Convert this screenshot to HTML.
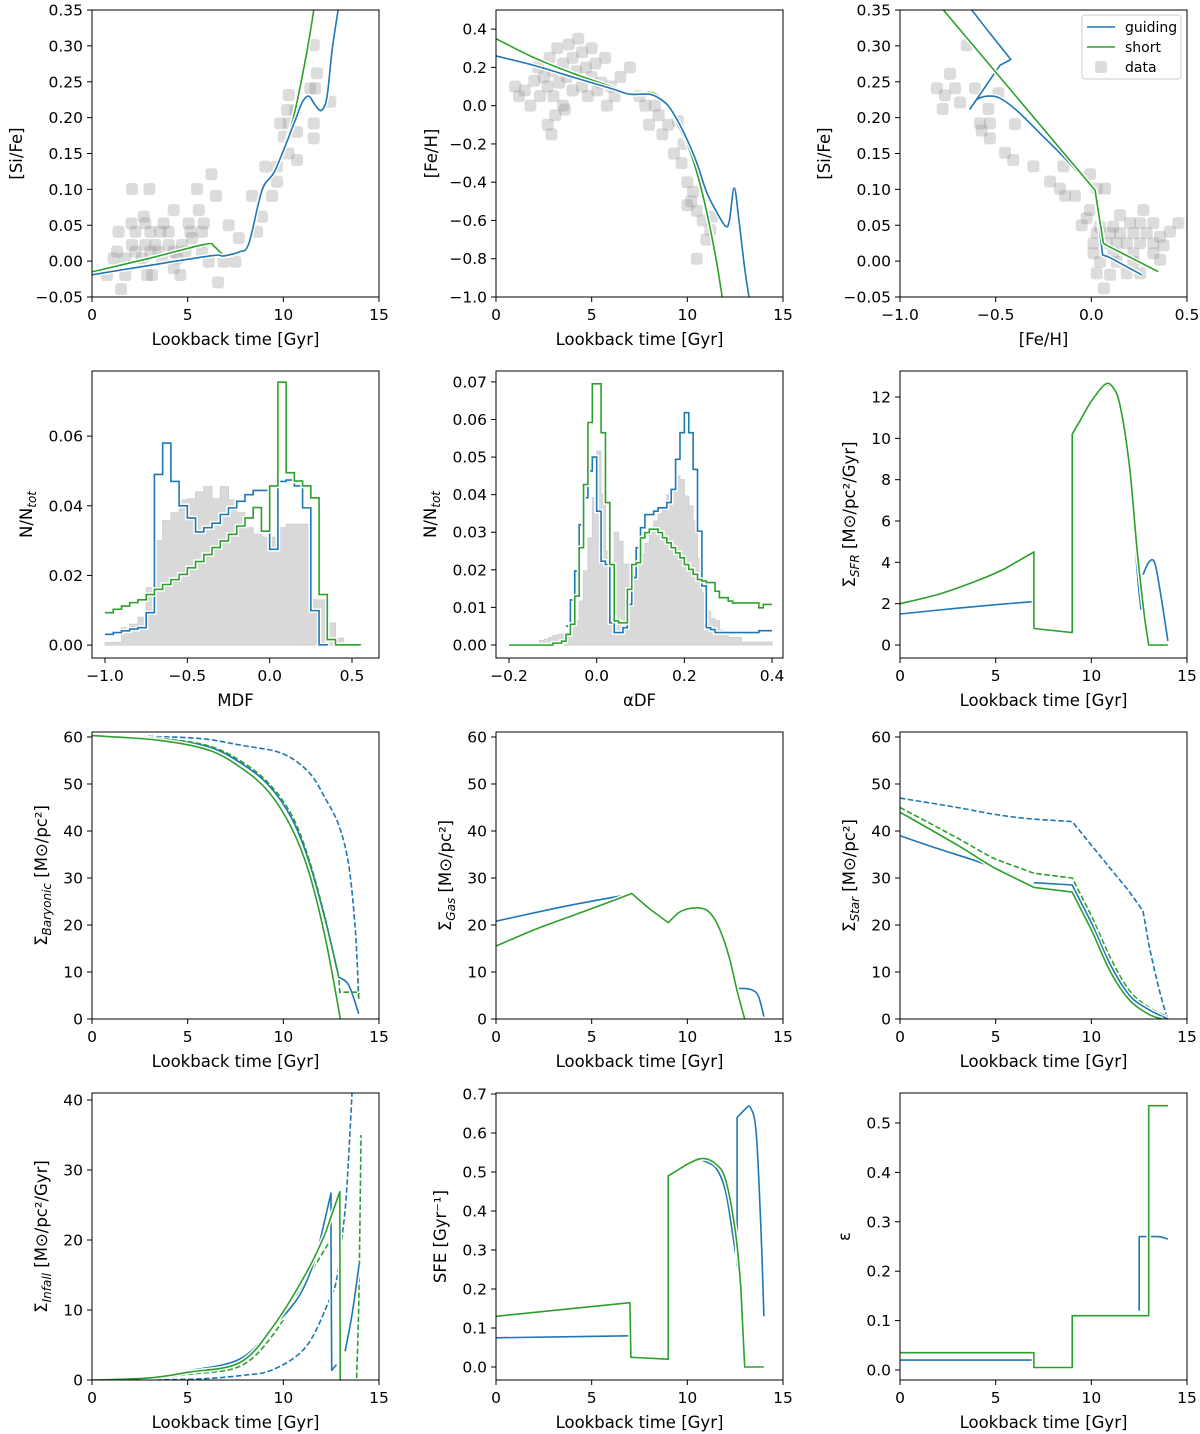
<!DOCTYPE html>
<html><head><meta charset="utf-8">
<style>
html,body{margin:0;padding:0;background:#fff;}
svg{display:block;font-family:"DejaVu Sans","Liberation Sans",sans-serif;}
</style></head>
<body>
<svg id="fig" width="1200" height="1434" viewBox="0 0 1200 1434" xmlns="http://www.w3.org/2000/svg"></svg>
<script>
// ---------- data ----------
const siFeScatter=[[2.09,0.1005],[3.0,0.1005],[6.24,0.121],[5.49,0.1005],[6.48,0.091],[4.27,0.071],[5.58,0.071],[2.7,0.062],[2.06,0.0527],[2.79,0.0527],[3.75,0.0527],[5.05,0.0527],[5.84,0.0527],[7.14,0.05],[1.39,0.041],[2.27,0.041],[3.05,0.041],[3.57,0.041],[4.01,0.041],[5.14,0.041],[5.75,0.041],[7.67,0.032],[2.09,0.0225],[2.79,0.0225],[3.31,0.0225],[4.01,0.0225],[4.7,0.0225],[5.23,0.032],[1.31,0.0132],[2.27,0.0132],[3.05,0.0132],[3.48,0.0132],[4.27,0.0132],[4.88,0.0132],[5.75,0.0132],[1.13,0.0039],[1.74,0.0039],[2.61,0.0039],[3.66,0.0039],[4.44,0.0039],[6.1,-0.0008],[6.88,-0.0008],[7.49,-0.0008],[0.78,-0.0193],[1.74,-0.0193],[2.88,-0.0193],[3.14,-0.0193],[4.62,-0.0193],[4.27,-0.01],[1.52,-0.039],[6.59,-0.0296],[8.36,0.091],[9.41,0.091],[9.06,0.1317],[9.67,0.1317],[9.67,0.1107],[8.89,0.062],[8.63,0.041],[10.28,0.2315],[9.84,0.192],[10.28,0.192],[10.72,0.18],[10.19,0.2106],[10.02,0.1735],[10.28,0.15],[10.72,0.141],[11.59,0.301],[11.76,0.2617],[11.41,0.2408],[11.67,0.2408],[12.46,0.2222],[11.59,0.192],[11.59,0.171],[10.63,0.2106]];
const siFeBlue=[[0,-0.019],[3,-0.006],[6.27,0.0076],[6.8,0.007],[7.2,0.009],[7.7,0.013],[8.19,0.024],[8.89,0.099],[9.58,0.127],[10.63,0.197],[11.0,0.222],[11.33,0.23],[11.65,0.218],[11.99,0.21],[12.28,0.229],[12.55,0.294],[12.86,0.35]];
const siFeGreen=[[0,-0.015],[3,0.004],[5.92,0.0234],[6.4,0.02],[6.97,0.0076],[7.67,0.0132],[8.19,0.0248],[8.89,0.099],[9.58,0.127],[10.45,0.192],[11.15,0.28],[11.59,0.35]];
const feHScatter=[[1.0,0.1],[1.2,0.05],[1.5,0.08],[1.8,0.0],[2.0,0.13],[2.2,0.2],[2.3,0.05],[2.5,0.15],[2.7,0.1],[2.8,0.25],[3.0,0.18],[3.0,0.05],[3.2,0.3],[3.3,0.12],[3.5,0.22],[3.5,0.0],[3.7,0.15],[3.8,0.32],[4.0,0.08],[4.0,0.25],[4.2,0.18],[4.3,0.35],[4.5,0.1],[4.5,0.28],[4.7,0.2],[4.8,0.05],[5.0,0.3],[5.0,0.15],[5.2,0.22],[5.3,0.08],[5.5,0.12],[5.7,0.25],[6.0,0.1],[6.2,0.05],[6.5,0.15],[2.7,-0.1],[2.9,-0.15],[3.1,-0.05],[7.0,0.2],[7.5,0.05],[7.8,0.0],[8.0,-0.1],[8.3,0.0],[8.5,-0.05],[8.7,-0.15],[9.0,-0.1],[9.3,-0.25],[9.5,-0.08],[9.7,-0.3],[9.8,-0.2],[10.0,-0.4],[10.2,-0.5],[10.5,-0.55],[10.3,-0.45],[11.0,-0.7],[11.2,-0.65],[10.8,-0.6],[10.0,-0.52],[10.5,-0.8],[11.3,-0.58],[3.6,-0.02],[5.8,0.0]];
const feHBlue=[[0,0.26],[2,0.21],[4,0.15],[6,0.09],[7,0.06],[8,0.06],[8.5,0.04],[9,0.0],[9.5,-0.08],[10,-0.18],[10.5,-0.3],[11,-0.45],[11.5,-0.55],[12,-0.63],[12.2,-0.6],[12.45,-0.43],[12.7,-0.6],[13,-0.85],[13.3,-1.05]];
const feHGreen=[[0,0.35],[2,0.25],[4,0.17],[6,0.1],[7,0.06],[8,0.07],[8.5,0.05],[9,0.0],[9.5,-0.1],[10,-0.2],[10.5,-0.35],[11,-0.55],[11.5,-0.8],[11.9,-1.05]];
const alphaScatter=[[-0.651,0.301],[-0.739,0.261],[-0.808,0.241],[-0.765,0.231],[-0.712,0.241],[-0.608,0.241],[-0.486,0.234],[-0.686,0.221],[-0.777,0.212],[-0.538,0.212],[-0.582,0.192],[-0.530,0.192],[-0.399,0.191],[-0.573,0.182],[-0.530,0.171],[-0.451,0.151],[-0.408,0.141],[-0.303,0.132],[-0.146,0.132],[-0.216,0.111],[-0.164,0.101],[-0.137,0.091],[-0.085,0.091],[-0.007,0.121],[0.028,0.101],[0.072,0.101],[0.272,0.071],[-0.007,0.071],[-0.024,0.060],[-0.050,0.050],[0.150,0.064],[0.455,0.053],[0.411,0.041],[0.045,0.048],[0.115,0.048],[0.202,0.053],[0.255,0.053],[0.324,0.053],[0.028,0.039],[0.098,0.039],[0.150,0.039],[0.220,0.039],[0.289,0.039],[0.359,0.034],[0.011,0.025],[0.080,0.025],[0.133,0.025],[0.185,0.025],[0.255,0.025],[0.324,0.025],[0.377,0.022],[0.011,0.011],[0.115,0.011],[0.220,0.011],[0.324,0.011],[0.045,-0.001],[0.133,-0.001],[0.220,-0.001],[0.359,0.002],[0.028,-0.017],[0.098,-0.019],[0.185,-0.017],[0.255,-0.017],[0.066,-0.038]];
const alphaBlue=[[0.263,-0.019],[0.089,0.006,1],[0.059,0.0085,1],[0.019,0.099,1],[-0.155,0.148],[-0.268,0.178],[-0.39,0.21],[-0.477,0.227],[-0.538,0.23],[-0.6,0.225],[-0.634,0.212,1],[-0.477,0.273,1],[-0.421,0.281,1],[-0.53,0.3175],[-0.625,0.35]];
const alphaGreen=[[0.35,-0.0147],[0.08,0.022,1],[0.063,0.025,1],[0.019,0.099,1],[-0.773,0.35]];
const mdfGray=[0.0008,0.0008,0.005,0.006,0.008,0.0165,0.030,0.0358,0.038,0.0417,0.042,0.044,0.0455,0.042,0.0455,0.0417,0.038,0.0337,0.0318,0.031,0.031,0.0337,0.0347,0.0347,0.0347,0.013,0.013,0.0064,0.002];
const mdfBlue=[0.0031,0.0036,0.0041,0.0046,0.005,0.0093,0.049,0.058,0.047,0.040,0.0365,0.0325,0.0337,0.035,0.0375,0.0394,0.0413,0.0432,0.0444,0.0444,0.0275,0.047,0.0474,0.0457,0.0394,0.0099,0.0001];
const mdfGreen=[0.0093,0.0103,0.0112,0.0122,0.013,0.0145,0.016,0.0174,0.0188,0.0203,0.0222,0.024,0.026,0.028,0.0299,0.0318,0.0342,0.0365,0.0395,0.0327,0.0457,0.0755,0.0495,0.0471,0.0457,0.0423,0.0145,0.0016,0.0001,0.0001,0.0001];
const adfGray=[0,0,0,0,0,0,0.0003,0.0012,0.0015,0.002,0.0025,0.0028,0.003,0.003,0.005,0.0065,0.0117,0.0197,0.0285,0.0392,0.0516,0.04,0.025,0.012,0.03,0.0276,0.0215,0.0215,0.02,0.022,0.024,0.027,0.03,0.033,0.035,0.037,0.04,0.042,0.045,0.044,0.0396,0.037,0.033,0.023,0.014,0.009,0.007,0.0065,0.004,0.003,0.002,0.002,0.002,0.0008,0.0008,0.0008,0.0008,0.0008,0.0008,0.0008];
const adfBlue=[null,null,null,null,null,null,null,null,null,null,null,null,null,0.005,0.012,0.0197,0.032,0.0392,0.0463,0.05,0.0356,0.0223,0.0214,0.0059,0.0033,0.0033,0.0046,0.0108,0.0179,0.0259,0.0312,0.0347,0.0347,0.0356,0.0365,0.0365,0.0379,0.0414,0.0494,0.0565,0.0618,0.0565,0.0467,0.0303,0.0157,0.0046,0.0041,0.0033,0.0033,0.0033,0.0033,0.0033,0.0033,0.0033,0.0033,0.0033,0.0033,0.0038,0.0038,0.0038];
const adfGreen=[0,0,0,0,0,0,0,0,0,0,0.0005,0.0005,0.001,0.0028,0.0055,0.013,0.0259,0.0427,0.0592,0.0695,0.0695,0.0565,0.0379,0.0214,0.0064,0.0059,0.0059,0.0148,0.0214,0.0219,0.0285,0.0299,0.0308,0.0308,0.0299,0.0285,0.0272,0.0259,0.0245,0.0232,0.0214,0.0201,0.0188,0.0174,0.017,0.0166,0.0166,0.0143,0.0126,0.0126,0.0117,0.0112,0.0112,0.0112,0.0112,0.0112,0.0112,0.0099,0.0108,0.0108];
const sfrBlueA=[[0,1.5],[3,1.78],[5,1.95],[7,2.1]];
const sfrGreen=[[0,2.0],[2,2.45],[4,3.1],[5.5,3.7],[7,4.5,1],[7,0.8,1],[9,0.6,1],[9,10.2,1],[9.5,11.0],[10,11.8],[10.7,12.6],[11.1,12.5],[11.5,11.6],[12,8.6],[12.4,4.5],[12.8,1.2],[13.0,0,1],[14,0]];
const sfrBlueB=[[10.7,12.6],[11.2,12.3],[11.7,10.5],[12.1,7.5],[12.4,3.5],[12.6,1.7]];
const sfrBlueC=[[12.7,3.4],[13,4.0],[13.3,4.0],[13.6,2.6],[14,0.2]];
const barGreen=[[0,60.3],[3.49,59.3],[6.1,57.2],[7.84,53.3],[9.24,48.3],[10.45,40.5],[11.33,31.3],[12.2,17.1],[12.98,0]];
const barBlue=[[0,60.3],[3.49,59.6],[6.1,57.9],[7.84,54.3],[9.24,49.7],[10.45,42.6],[11.33,33.6],[12.2,21],[12.9,8.9]];
const barBlueTail=[[12.9,8.9],[13.42,7.2],[13.94,1.1]];
const barGreenDash=[[0,60.3],[3.49,59.7],[6.1,58.1],[7.84,54.7],[9.24,50.1],[10.45,43.3],[11.33,34.1],[12.2,21.3],[12.9,8.9,1],[12.95,5.7,1],[13.94,5.7,1],[13.94,4.5]];
const barBlueDash=[[0,60.3],[5.23,59.8],[7.84,58.2],[9.93,56.5],[11.33,52.5],[12.2,46.9],[12.9,41.2],[13.42,32.7],[13.77,18.5],[13.94,4.3]];
const gasBlueA=[[0,20.8],[2,22.6],[4,24.3],[6,25.8],[7,26.5]];
const gasGreen=[[0,15.5],[2,19],[4,22],[6,25],[7.1,26.7,1],[8,23.5],[9,20.5,1],[9.5,22.5],[10,23.4],[10.7,23.6],[11.2,22.5],[11.7,19],[12.2,13],[12.6,6],[13,0]];
const gasBlueB=[[11.2,22.5],[11.7,19.5],[12.1,14.5],[12.4,9],[12.6,5.5]];
const gasBlueC=[[12.7,6.5],[13.3,6.3],[13.7,5],[14,0.5]];
const starBlueA=[[0,39],[2,36.2],[4,33.6],[5.7,31]];
const starBlueB=[[7,29],[9,28.5,1],[10,20.5],[11,11.5],[12,5],[13,2],[14,0]];
const starGreen=[[0,44],[3,37],[5,32],[7,28,1],[9,27,1],[10,19],[11,10],[12,4],[13,1],[13.7,0]];
const starGreenDash=[[0,45],[3,38.5],[5,34],[7,31,1],[9,30,1],[10,22],[11,13],[12,6],[13,2.5],[14,0.5]];
const starBlueDash=[[0,47],[3,45],[5,43.5],[7,42.5],[9,42,1],[10,37],[11,32],[12,27],[12.7,23,1],[13,16],[13.5,7],[13.9,1]];
const infBlue=[[0,0],[3,0.4],[5,1.3],[7.73,3.0],[9.5,7.7],[10.87,12.2],[11.8,18.5],[12.49,26.7,1],[12.49,20,1],[12.53,1.4,1],[12.78,2.2]];
const infBlueB=[[13.23,4.1],[13.6,9.5],[13.96,16.5]];
const infGreen=[[0,0],[3,0.3],[5,1.1],[7.73,2.5],[9.47,7.67],[11.2,15.3],[12.2,21],[12.95,26.9,1],[12.97,0]];
const infGreenDash=[[0,0],[3,0.2],[5,0.8],[7.73,1.96],[9.47,6.5],[11.2,14.3],[12.42,19.8]];
const infGreenDashB=[[13.83,0.29],[13.95,12],[14.06,35]];
const infBlueDash=[[0,0],[5,0.1],[7.73,0.62],[9.47,1.5],[11.2,4.8],[12.42,11.5],[12.78,14.3],[13.05,20],[13.3,26.7],[13.6,41.5]];
const sfeBlueA=[[0,0.075],[7,0.08]];
const sfeGreen=[[0,0.13],[7,0.165,1],[7.05,0.025,1],[9,0.02,1],[9,0.49,1],[10,0.52],[10.8,0.535],[11.5,0.52],[12,0.48],[12.5,0.35],[12.8,0.2],[13,0,1],[14,0]];
const sfeBlueB=[[10.8,0.53],[11.5,0.51],[12,0.45],[12.4,0.33],[12.6,0.26]];
const sfeBlueC=[[12.6,0.26,1],[12.6,0.64,1],[13,0.66],[13.3,0.665],[13.6,0.6],[13.85,0.35],[14,0.13]];
const epsGreen=[[0,0.035],[7,0.035,1],[7,0.005,1],[9,0.005,1],[9,0.11,1],[13,0.11,1],[13,0.535,1],[14,0.535]];
const epsBlueA=[[0,0.02],[7,0.02]];
const epsBlueB=[[12.5,0.12,1],[12.5,0.27,1],[13.5,0.27],[14,0.265]];
const tLabel='Lookback time [Gyr]';

// ---------- helpers ----------
const NS='http://www.w3.org/2000/svg';
const fig=document.getElementById('fig');
const BLUE='#1f77b4', GREEN='#2ca02c';
function el(tag,attrs,parent){const e=document.createElementNS(NS,tag);for(const k in attrs)e.setAttribute(k,attrs[k]);(parent||fig).appendChild(e);return e;}
function fmt(v,d){const s=Math.abs(v).toFixed(d);return (v<-1e-9?'\u2212':'')+s;}
function rng(a,b,s){const r=[];for(let v=a;v<=b+s/1e6;v+=s)r.push(+v.toFixed(6));return r;}
function smoothPath(pts,sx,sy){
  const P=pts.map(p=>[sx(p[0]),sy(p[1]),p[2]]);
  let d='M'+P[0][0].toFixed(1)+','+P[0][1].toFixed(1);
  for(let i=0;i<P.length-1;i++){
    const p1=P[i],p2=P[i+1];
    if(p1[2]||p2[2]){d+='L'+p2[0].toFixed(1)+','+p2[1].toFixed(1);continue;}
    const p0=(i>0&&!p1[2])?P[i-1]:p1, p3=(i+2<P.length)?P[i+2]:p2;
    const c1=[p1[0]+(p2[0]-p0[0])/6,p1[1]+(p2[1]-p0[1])/6],c2=[p2[0]-(p3[0]-p1[0])/6,p2[1]-(p3[1]-p1[1])/6];
    d+='C'+c1.map(v=>v.toFixed(1))+' '+c2.map(v=>v.toFixed(1))+' '+p2[0].toFixed(1)+','+p2[1].toFixed(1);
  }
  return d;
}
let clipN=0;
function panel(o){
  const W=287,H=287,L=o.L,T=o.T;
  const sx=v=>L+(v-o.x[0])/(o.x[1]-o.x[0])*W;
  const sy=v=>T+H-(v-o.y[0])/(o.y[1]-o.y[0])*H;
  const g=el('g',{});
  
  
  const cid='c'+(clipN++);
  const cp=el('clipPath',{id:cid},g);
  el('rect',{x:L,y:T,width:W,height:H},cp);
  const plot=el('g',{'clip-path':'url(#'+cid+')'},g);
  
  
  o.xt.forEach(v=>{const X=sx(v);
    const t=el('line',{x1:X,x2:X,y1:T+H,y2:T+H+5,stroke:'#000','stroke-width':1},g);
    
    
    const tx=el('text',{x:X,y:T+H+23,'text-anchor':'middle','font-size':15.5},g);tx.textContent=fmt(v,o.xd);
    
    
  });
  o.yt.forEach(v=>{const Y=sy(v);
    const t=el('line',{x1:L-5,x2:L,y1:Y,y2:Y,stroke:'#000','stroke-width':1},g);
    
    
    const tx=el('text',{x:L-9,y:Y+5.5,'text-anchor':'end','font-size':15.5},g);tx.textContent=fmt(v,o.yd);
    
    
  });
  const xl=el('text',{x:L+W/2,y:T+H+48,'text-anchor':'middle','font-size':16.5},g);xl.textContent=o.xl;
  
  
  const yx=L-o.ylo, yc=T+H/2;
  const yl=el('text',{x:yx,y:yc,'text-anchor':'middle','font-size':16.5,transform:'rotate(-90 '+yx+' '+yc+')'},g);
  
  
  o.yl.forEach((part,i)=>{const ts=el('tspan',{},yl);ts.textContent=part;
    if(i===1){ts.setAttribute('font-size','12');ts.setAttribute('font-style','italic');ts.setAttribute('dy','4');}
    if(i===2){ts.setAttribute('dy','-4');}
  });
  const ctx={g,plot,sx,sy,L,T,W,H};
  o.draw(ctx);
  const fr=el('rect',{x:L,y:T,width:W,height:H,fill:'none',stroke:'#000','stroke-width':1},g);
  
  
  return ctx;
}
function curve(c,pts,color,name,dash){
  const d=smoothPath(pts,c.sx,c.sy);
  if(!dash){const w=el('path',{d,fill:'none',stroke:'#fff','stroke-width':4.5,'stroke-linejoin':'round'},c.plot);
    
    }
  const p=el('path',{d,fill:'none',stroke:color,'stroke-width':1.6,'stroke-linejoin':'round'},c.plot);
  if(dash)p.setAttribute('stroke-dasharray','5.5 2.5');
  
  
}
function scatter(c,pts,name){
  pts.forEach(p=>{const r=el('rect',{x:c.sx(p[0])-6,y:c.sy(p[1])-6,width:12,height:12,rx:3,fill:'#8c8c8c','fill-opacity':0.3},c.plot);
    
    });
}
function hist(c,vals,x0,w,color,name,filled,openEnd){
  let d='',started=false,last=null;
  vals.forEach((v,i)=>{const a=c.sx(x0+i*w),b=c.sx(x0+(i+1)*w);
    if(v===null){return;}
    const Y=c.sy(v);
    if(!started){d+=(filled?'M'+a+','+c.sy(0)+'L':'M')+a+','+Y;started=true;}else d+='L'+a+','+Y;
    d+='L'+b+','+Y;last=b;});
  if(filled){d+='L'+last+','+c.sy(0)+'Z';
    const p=el('path',{d,fill:'#d9d9d9',stroke:'#d0d0d0','stroke-width':1},c.plot);
    
    
  } else {
    if(!openEnd)d+='L'+last+','+c.sy(0);
    const w2=el('path',{d,fill:'none',stroke:'#fff','stroke-width':4.5},c.plot);
    
    
    const p=el('path',{d,fill:'none',stroke:color,'stroke-width':1.6},c.plot);
    
    
  }
}
const cols=[92,496,900], rows=[10,371,732,1093];
const t15=[0,5,10,15];

// row 1
panel({name:'si-fe-vs-time',L:cols[0],T:rows[0],x:[0,15],y:[-0.05,0.35],xt:t15,xd:0,yt:rng(-0.05,0.35,0.05),yd:2,xl:tLabel,yl:['[Si/Fe]'],ylo:70,
 draw:c=>{scatter(c,siFeScatter,'data-point');curve(c,siFeGreen,GREEN,'short-line');curve(c,siFeBlue,BLUE,'guiding-line');}});
panel({name:'fe-h-vs-time',L:cols[1],T:rows[0],x:[0,15],y:[-1.0,0.5],xt:t15,xd:0,yt:rng(-1.0,0.4,0.2),yd:1,xl:tLabel,yl:['[Fe/H]'],ylo:59,
 draw:c=>{scatter(c,feHScatter,'data-point');curve(c,feHGreen,GREEN,'short-line');curve(c,feHBlue,BLUE,'guiding-line');}});
panel({name:'si-fe-vs-fe-h',L:cols[2],T:rows[0],x:[-1.0,0.5],y:[-0.05,0.35],xt:[-1.0,-0.5,0.0,0.5],xd:1,yt:rng(-0.05,0.35,0.05),yd:2,xl:'[Fe/H]',yl:['[Si/Fe]'],ylo:70,
 draw:c=>{scatter(c,alphaScatter,'data-point');curve(c,alphaBlue,BLUE,'guiding-line');curve(c,alphaGreen,GREEN,'short-line');}});
(function(){
  const lg=el('g',{});
  
  
  el('rect',{x:1082,y:15,width:99,height:64,rx:3,fill:'#fff','fill-opacity':0.8,stroke:'#ccc'},lg);
  const items=[['guiding',BLUE,'line'],['short',GREEN,'line'],['data','#8c8c8c','sq']];
  items.forEach((it,i)=>{const y=27+i*20;
    const e=el('g',{},lg);
    
    
    if(it[2]==='line')el('line',{x1:1087,x2:1115,y1:y,y2:y,stroke:it[1],'stroke-width':1.6},e);
    else el('rect',{x:1095,y:y-6,width:12,height:12,rx:3,fill:it[1],'fill-opacity':0.3},e);
    const t=el('text',{x:1125,y:y+5,'font-size':14},e);t.textContent=it[0];});
})();

// row 2
panel({name:'mdf-histogram',L:cols[0],T:rows[1],x:[-1.079,0.664],y:[-0.0037,0.0787],xt:[-1.0,-0.5,0.0,0.5],xd:1,yt:[0,0.02,0.04,0.06],yd:2,xl:'MDF',yl:['N/N','tot'],ylo:60,
 draw:c=>{hist(c,mdfGray,-1.0,0.05,'#d9d9d9','data-histogram',true);hist(c,mdfBlue,-1.0,0.05,BLUE,'guiding-histogram');hist(c,mdfGreen,-1.0,0.05,GREEN,'short-histogram');}});
panel({name:'alpha-df-histogram',L:cols[1],T:rows[1],x:[-0.2297,0.425],y:[-0.00346,0.0729],xt:[-0.2,0.0,0.2,0.4],xd:1,yt:rng(0,0.07,0.01),yd:2,xl:'\u03b1DF',yl:['N/N','tot'],ylo:60,
 draw:c=>{hist(c,adfGray,-0.2,0.01,'#d9d9d9','data-histogram',true);hist(c,adfBlue,-0.2,0.01,BLUE,'guiding-histogram',false,true);hist(c,adfGreen,-0.2,0.01,GREEN,'short-histogram',false,true);}});
panel({name:'sfr-vs-time',L:cols[2],T:rows[1],x:[0,15],y:[-0.63,13.26],xt:t15,xd:0,yt:[0,2,4,6,8,10,12],yd:0,xl:tLabel,yl:['\u03a3','SFR',' [M\u2299/pc\u00b2/Gyr]'],ylo:45,
 draw:c=>{curve(c,sfrBlueA,BLUE,'guiding-line');curve(c,sfrBlueB,BLUE,'guiding-line');curve(c,sfrBlueC,BLUE,'guiding-line');curve(c,sfrGreen,GREEN,'short-line');}});

// row 3
const y60=[0,10,20,30,40,50,60];
panel({name:'baryonic-vs-time',L:cols[0],T:rows[2],x:[0,15],y:[0,61.06],xt:t15,xd:0,yt:y60,yd:0,xl:tLabel,yl:['\u03a3','Baryonic',' [M\u2299/pc\u00b2]'],ylo:45,
 draw:c=>{curve(c,barBlueDash,BLUE,'guiding-dashed',true);curve(c,barBlue,BLUE,'guiding-line');curve(c,barBlueTail,BLUE,'guiding-line');curve(c,barGreenDash,GREEN,'short-dashed',true);curve(c,barGreen,GREEN,'short-line');}});
panel({name:'gas-vs-time',L:cols[1],T:rows[2],x:[0,15],y:[0,61.06],xt:t15,xd:0,yt:y60,yd:0,xl:tLabel,yl:['\u03a3','Gas',' [M\u2299/pc\u00b2]'],ylo:45,
 draw:c=>{curve(c,gasBlueA,BLUE,'guiding-line');curve(c,gasBlueB,BLUE,'guiding-line');curve(c,gasBlueC,BLUE,'guiding-line');curve(c,gasGreen,GREEN,'short-line');}});
panel({name:'star-vs-time',L:cols[2],T:rows[2],x:[0,15],y:[0,61.06],xt:t15,xd:0,yt:y60,yd:0,xl:tLabel,yl:['\u03a3','Star',' [M\u2299/pc\u00b2]'],ylo:45,
 draw:c=>{curve(c,starBlueDash,BLUE,'guiding-dashed',true);curve(c,starGreenDash,GREEN,'short-dashed',true);curve(c,starBlueA,BLUE,'guiding-line');curve(c,starBlueB,BLUE,'guiding-line');curve(c,starGreen,GREEN,'short-line');}});

// row 4
panel({name:'infall-vs-time',L:cols[0],T:rows[3],x:[0,15],y:[0,41],xt:t15,xd:0,yt:[0,10,20,30,40],yd:0,xl:tLabel,yl:['\u03a3','Infall',' [M\u2299/pc\u00b2/Gyr]'],ylo:45,
 draw:c=>{curve(c,infBlueDash,BLUE,'guiding-dashed',true);curve(c,infGreenDash,GREEN,'short-dashed',true);curve(c,infGreenDashB,GREEN,'short-dashed',true);curve(c,infBlue,BLUE,'guiding-line');curve(c,infBlueB,BLUE,'guiding-line');curve(c,infGreen,GREEN,'short-line');}});
panel({name:'sfe-vs-time',L:cols[1],T:rows[3],x:[0,15],y:[-0.0333,0.7026],xt:t15,xd:0,yt:rng(0,0.7,0.1),yd:1,xl:tLabel,yl:['SFE [Gyr\u207b\u00b9]'],ylo:50,
 draw:c=>{curve(c,sfeBlueA,BLUE,'guiding-line');curve(c,sfeBlueB,BLUE,'guiding-line');curve(c,sfeBlueC,BLUE,'guiding-line');curve(c,sfeGreen,GREEN,'short-line');}});
panel({name:'epsilon-vs-time',L:cols[2],T:rows[3],x:[0,15],y:[-0.0202,0.5607],xt:t15,xd:0,yt:rng(0,0.5,0.1),yd:1,xl:tLabel,yl:['\u03b5'],ylo:50,
 draw:c=>{curve(c,epsBlueA,BLUE,'guiding-line');curve(c,epsBlueB,BLUE,'guiding-line');curve(c,epsGreen,GREEN,'short-line');}});
</script>
</body></html>
